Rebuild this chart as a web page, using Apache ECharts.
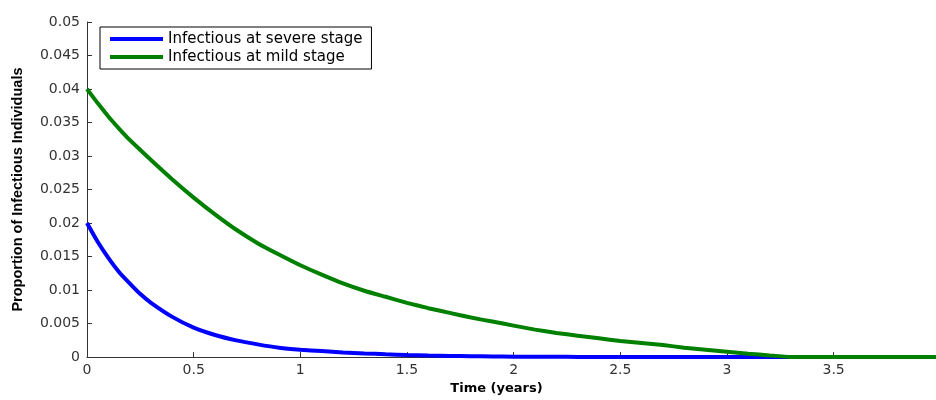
<!DOCTYPE html>
<html>
<head>
<meta charset="utf-8">
<script src="https://cdn.jsdelivr.net/npm/echarts@6/dist/echarts.min.js"></script>
<style>
html,body{margin:0;padding:0;background:#fff;}
#chart{width:936px;height:400px;}
</style>
</head>
<body>
<div id="chart"></div>
<script>
var timeValues = [0, 0.05, 0.1, 0.15, 0.2, 0.25, 0.3, 0.4, 0.5, 0.6, 0.7, 0.8, 0.9, 1.0,
  1.1, 1.2, 1.3, 1.4, 1.5, 1.6, 1.7, 1.8, 1.9, 2.0, 2.1, 2.2, 2.3, 2.4, 2.5, 2.6, 2.7, 2.8,
  2.9, 3.0, 3.1, 3.2, 3.3, 3.4, 3.5, 3.6, 3.7, 3.8, 3.9, 3.98];
var severeValues = [0.02, 0.0172, 0.0148, 0.0127, 0.0110, 0.0094, 0.0081, 0.0060, 0.0044, 0.0033,
  0.0025, 0.0019, 0.0014, 0.0011, 0.0009, 0.0007, 0.00055, 0.00042, 0.00032, 0.00024, 0.00018,
  0.00013, 0.0001, 0.00007, 0.00005, 0.00004, 0.00003, 0.00002, 0.00001, 0, 0, 0, 0, 0, 0, 0,
  0, 0, 0, 0, 0, 0, 0, 0];
var mildValues = [0.04, 0.0379, 0.0359, 0.0341, 0.0324, 0.0309, 0.0294, 0.0265, 0.0238, 0.0213,
  0.0190, 0.0170, 0.0153, 0.0137, 0.0123, 0.0110, 0.0099, 0.0090, 0.0081, 0.0073, 0.0066,
  0.0059, 0.0053, 0.0047, 0.0041, 0.0036, 0.0032, 0.0028, 0.0024, 0.0021, 0.0018, 0.0014,
  0.0011, 0.0008, 0.0005, 0.00025, 0.00003, 0, 0, 0, 0, 0, 0, 0];
var xTicks = [0, 0.5, 1, 1.5, 2, 2.5, 3, 3.5];
var seriesNames = ['Infectious at severe stage', 'Infectious at mild stage'];
var xTitle = 'Time (years)';
var yTitle = 'Proportion of Infectious Individuals';

function pairs(vals) {
  return timeValues.map(function (t, i) { return [t, vals[i]]; });
}

var chart = echarts.init(document.getElementById('chart'), null, {renderer: 'canvas'});
var tickFont = {fontFamily: 'DejaVu Sans', fontSize: 14, color: '#333'};
chart.setOption({
  animation: false,
  backgroundColor: '#fff',
  grid: {left: 87, right: 0, top: 22, bottom: 38},
  legend: {
    orient: 'vertical',
    left: 100,
    top: 27,
    padding: [3, 9, 3, 10],
    itemGap: 0,
    itemWidth: 53,
    itemHeight: 4,
    itemTextGap: 5,
    icon: 'rect',
    backgroundColor: '#fff',
    borderColor: '#000',
    borderWidth: 1,
    borderRadius: 0,
    textStyle: {fontFamily: 'DejaVu Sans', fontSize: 15, lineHeight: 18, color: '#000'},
    data: seriesNames
  },
  xAxis: {
    type: 'value',
    min: 0,
    max: 3.98,
    interval: 0.5,
    name: xTitle,
    nameLocation: 'middle',
    nameGap: 20,
    nameTextStyle: {fontFamily: 'DejaVu Sans', fontWeight: 'bold', fontSize: 13, color: '#000', padding: [0, 30, 0, 0]},
    splitLine: {show: false},
    axisLine: {lineStyle: {color: '#333', width: 1}},
    axisTick: {inside: true, length: 5, lineStyle: {color: '#333'}, customValues: xTicks},
    axisLabel: Object.assign({margin: 6, customValues: xTicks}, tickFont)
  },
  yAxis: {
    type: 'value',
    min: 0,
    max: 0.05,
    interval: 0.005,
    name: yTitle,
    nameLocation: 'middle',
    nameGap: 62,
    nameTextStyle: {fontFamily: 'Liberation Sans', fontWeight: 'bold', fontSize: 14.5, color: '#000'},
    splitLine: {show: false},
    axisLine: {show: true, lineStyle: {color: '#333', width: 1}},
    axisTick: {show: true, inside: true, length: 5, lineStyle: {color: '#333'}},
    axisLabel: Object.assign({margin: 7}, tickFont)
  },
  series: [
    {
      name: seriesNames[0], type: 'line', data: pairs(severeValues),
      showSymbol: false, smooth: 0.2, color: '#0000ff',
      lineStyle: {color: '#0000ff', width: 4}, itemStyle: {color: '#0000ff'}
    },
    {
      name: seriesNames[1], type: 'line', data: pairs(mildValues),
      showSymbol: false, smooth: 0.2, color: '#008000',
      lineStyle: {color: '#008000', width: 4}, itemStyle: {color: '#008000'}
    }
  ]
});
</script>
</body>
</html>
